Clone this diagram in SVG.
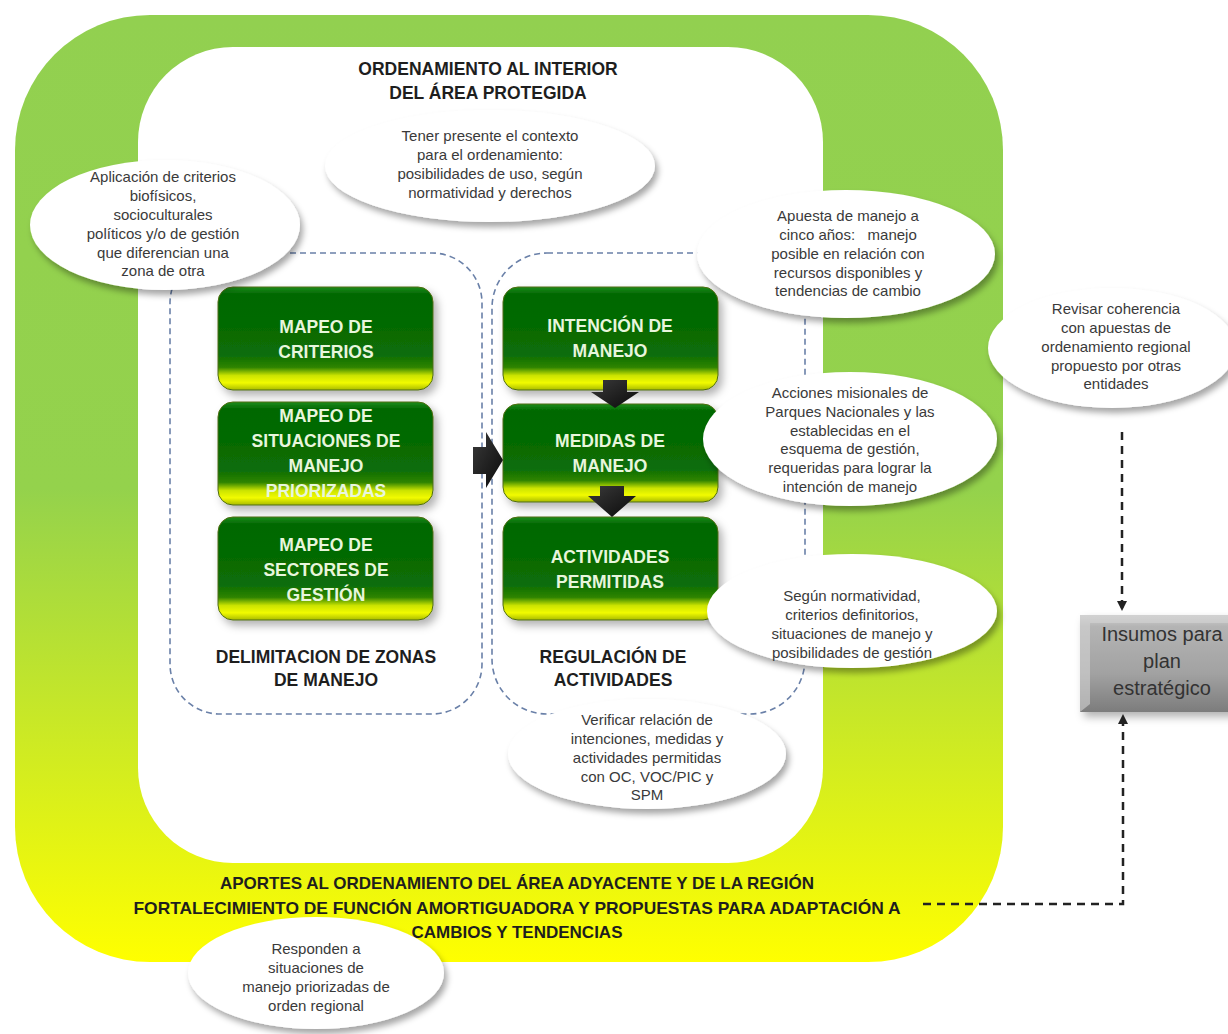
<svg xmlns="http://www.w3.org/2000/svg" width="1228" height="1034" viewBox="0 0 1228 1034">
<defs>
<linearGradient id="gOuter" x1="0" y1="15" x2="0" y2="962" gradientUnits="userSpaceOnUse">
<stop offset="0" stop-color="#92D050"/>
<stop offset="0.5" stop-color="#94D24C"/>
<stop offset="1" stop-color="#FFFF00"/>
</linearGradient>
<linearGradient id="gBox" x1="0" y1="0" x2="0" y2="1">
<stop offset="0" stop-color="#1f8c1f"/>
<stop offset="0.07" stop-color="#006800"/>
<stop offset="0.66" stop-color="#0b6d08"/>
<stop offset="0.78" stop-color="#2f8400"/>
<stop offset="0.86" stop-color="#cce400"/>
<stop offset="0.93" stop-color="#f2fb00"/>
<stop offset="1" stop-color="#a9bb00"/>
</linearGradient>
<linearGradient id="gGray" x1="0" y1="0" x2="0" y2="1">
<stop offset="0" stop-color="#cfcfcf"/>
<stop offset="0.12" stop-color="#b4b4b4"/>
<stop offset="0.6" stop-color="#a2a2a2"/>
<stop offset="1" stop-color="#7c7c7c"/>
</linearGradient>
<linearGradient id="gArrow" x1="0" y1="0" x2="1" y2="1">
<stop offset="0" stop-color="#3a3a3a"/>
<stop offset="1" stop-color="#0a0a0a"/>
</linearGradient>
<filter id="shE" x="-20%" y="-20%" width="140%" height="150%">
<feDropShadow dx="3" dy="5" stdDeviation="3" flood-color="#000" flood-opacity="0.35"/>
</filter>
<filter id="shB" x="-20%" y="-20%" width="140%" height="150%">
<feDropShadow dx="4" dy="5" stdDeviation="4" flood-color="#000" flood-opacity="0.3"/>
</filter>
<marker id="ah" viewBox="0 0 10 10" refX="9" refY="5" markerWidth="4" markerHeight="4" orient="auto" markerUnits="strokeWidth">
<path d="M0,0 L10,5 L0,10 z" fill="#222"/>
</marker>
<style>
.call{fill:#fff;filter:url(#shE)}
.ct{font-family:"Liberation Sans",Arial,sans-serif;font-size:15px;fill:#3a3a3a;text-anchor:middle}
.hd{font-family:"Liberation Sans",Arial,sans-serif;font-size:17.5px;font-weight:bold;fill:#1e1e1e;text-anchor:middle}
.bt{font-family:"Liberation Sans",Arial,sans-serif;font-size:17.5px;font-weight:bold;fill:#e8f6dc;text-anchor:middle}
.box{fill:url(#gBox);stroke:#4f6d10;stroke-width:1;filter:url(#shB)}
.cont{fill:none;stroke:#6a80a8;stroke-width:1.6;stroke-dasharray:6 4}
.arr{fill:url(#gArrow)}
.dl{fill:none;stroke:#222;stroke-width:2.5;stroke-dasharray:8 6}
</style>
</defs>

<g id="bg">
<rect x="15" y="15" width="988" height="947" rx="135" ry="135" fill="url(#gOuter)"/>
<rect x="138" y="47" width="685" height="816" rx="95" ry="95" fill="#fff"/>
</g>

<g id="containers">
<rect id="cont-delim" class="cont" x="170" y="253" width="312" height="461" rx="50" ry="50"/>
<rect id="cont-reg" class="cont" x="492" y="253" width="313" height="461" rx="55" ry="55"/>
</g>

<g id="title">
<text class="hd" x="488" y="75">ORDENAMIENTO AL INTERIOR</text>
<text class="hd" x="488" y="99">DEL ÁREA PROTEGIDA</text>
</g>

<g id="box-criterios">
<rect class="box" x="218" y="287" width="215" height="103" rx="15" ry="15"/>
<text class="bt" x="326" y="333">MAPEO DE</text>
<text class="bt" x="326" y="358">CRITERIOS</text>
</g>
<g id="box-situaciones">
<rect class="box" x="218" y="402" width="215" height="103" rx="15" ry="15"/>
<text class="bt" x="326" y="422">MAPEO DE</text>
<text class="bt" x="326" y="447">SITUACIONES DE</text>
<text class="bt" x="326" y="472">MANEJO</text>
<text class="bt" x="326" y="497">PRIORIZADAS</text>
</g>
<g id="box-sectores">
<rect class="box" x="218" y="517" width="215" height="103" rx="15" ry="15"/>
<text class="bt" x="326" y="551">MAPEO DE</text>
<text class="bt" x="326" y="576">SECTORES DE</text>
<text class="bt" x="326" y="601">GESTIÓN</text>
</g>
<g id="box-intencion">
<rect class="box" x="503" y="287" width="215" height="103" rx="15" ry="15"/>
<text class="bt" x="610" y="332">INTENCIÓN DE</text>
<text class="bt" x="610" y="357">MANEJO</text>
</g>
<g id="box-medidas">
<rect class="box" x="503" y="404" width="215" height="98" rx="15" ry="15"/>
<text class="bt" x="610" y="447">MEDIDAS DE</text>
<text class="bt" x="610" y="472">MANEJO</text>
</g>
<g id="box-actividades">
<rect class="box" x="503" y="517" width="215" height="103" rx="15" ry="15"/>
<text class="bt" x="610" y="563">ACTIVIDADES</text>
<text class="bt" x="610" y="588">PERMITIDAS</text>
</g>

<g id="arrows">
<polygon class="arr" points="603,380 627,380 627,392 639,392 615,408 591,392 603,392"/>
<polygon class="arr" points="600,486 624,486 624,496 636,496 612,517 588,496 600,496"/>
<polygon class="arr" points="473,447 486,447 486,432 503,460 486,488 486,474 473,474"/>
</g>

<g id="labels">
<text class="hd" x="326" y="663">DELIMITACION DE ZONAS</text>
<text class="hd" x="326" y="686">DE MANEJO</text>
<text class="hd" x="613" y="663">REGULACIÓN DE</text>
<text class="hd" x="613" y="686">ACTIVIDADES</text>
<text class="hd" x="517" y="889" style="font-size:17px">APORTES AL ORDENAMIENTO DEL ÁREA ADYACENTE Y DE LA REGIÓN</text>
<text class="hd" x="517" y="914" style="font-size:17px" textLength="767" lengthAdjust="spacingAndGlyphs">FORTALECIMIENTO DE FUNCIÓN AMORTIGUADORA Y PROPUESTAS PARA ADAPTACIÓN A</text>
<text class="hd" x="517" y="938" style="font-size:17px">CAMBIOS Y TENDENCIAS</text>
</g>

<g id="call-contexto">
<ellipse class="call" cx="490" cy="166" rx="165" ry="56"/>
<text class="ct" x="490" y="141">Tener presente el contexto</text>
<text class="ct" x="490" y="160">para el ordenamiento:</text>
<text class="ct" x="490" y="179">posibilidades de uso, según</text>
<text class="ct" x="490" y="198">normatividad y derechos</text>
</g>
<g id="call-criterios">
<ellipse class="call" cx="165" cy="225" rx="135" ry="65"/>
<text class="ct" x="163" y="182">Aplicación de criterios</text>
<text class="ct" x="163" y="201">biofísicos,</text>
<text class="ct" x="163" y="220">socioculturales</text>
<text class="ct" x="163" y="239">políticos y/o de gestión</text>
<text class="ct" x="163" y="258">que diferencian una</text>
<text class="ct" x="163" y="276">zona de otra</text>
</g>
<g id="call-apuesta">
<ellipse class="call" cx="846" cy="254" rx="149" ry="64"/>
<text class="ct" x="848" y="221">Apuesta de manejo a</text>
<text class="ct" x="848" y="240" xml:space="preserve">cinco años:   manejo</text>
<text class="ct" x="848" y="259">posible en relación con</text>
<text class="ct" x="848" y="278">recursos disponibles y</text>
<text class="ct" x="848" y="296">tendencias de cambio</text>
</g>
<g id="call-revisar">
<ellipse class="call" cx="1112" cy="348" rx="124" ry="60"/>
<text class="ct" x="1116" y="314">Revisar coherencia</text>
<text class="ct" x="1116" y="333">con apuestas de</text>
<text class="ct" x="1116" y="352">ordenamiento regional</text>
<text class="ct" x="1116" y="371">propuesto por otras</text>
<text class="ct" x="1116" y="389">entidades</text>
</g>
<g id="call-acciones">
<ellipse class="call" cx="850" cy="439" rx="147" ry="67"/>
<text class="ct" x="850" y="398">Acciones misionales de</text>
<text class="ct" x="850" y="417">Parques Nacionales y las</text>
<text class="ct" x="850" y="436">establecidas en el</text>
<text class="ct" x="850" y="454">esquema de gestión,</text>
<text class="ct" x="850" y="473">requeridas para lograr la</text>
<text class="ct" x="850" y="492">intención de manejo</text>
</g>
<g id="call-segun">
<ellipse class="call" cx="852" cy="611" rx="145" ry="57"/>
<text class="ct" x="852" y="601">Según normatividad,</text>
<text class="ct" x="852" y="620">criterios definitorios,</text>
<text class="ct" x="852" y="639">situaciones de manejo y</text>
<text class="ct" x="852" y="658">posibilidades de gestión</text>
</g>
<g id="call-verificar">
<ellipse class="call" cx="647" cy="754" rx="139" ry="55"/>
<text class="ct" x="647" y="725">Verificar relación de</text>
<text class="ct" x="647" y="744">intenciones, medidas y</text>
<text class="ct" x="647" y="763">actividades permitidas</text>
<text class="ct" x="647" y="782">con OC, VOC/PIC y</text>
<text class="ct" x="647" y="800">SPM</text>
</g>
<g id="call-responden">
<ellipse class="call" cx="316" cy="973" rx="128" ry="56"/>
<text class="ct" x="316" y="954">Responden a</text>
<text class="ct" x="316" y="973">situaciones de</text>
<text class="ct" x="316" y="992">manejo priorizadas de</text>
<text class="ct" x="316" y="1011">orden regional</text>
</g>

<g id="box-insumos">
<rect x="1080" y="615" width="160" height="97" fill="url(#gGray)" filter="url(#shB)"/>
<path d="M1080,615 L1240,615 L1230,623 L1090,623 L1090,704 L1080,712 Z" fill="#d4d4d4" opacity="0.6"/>
<text x="1162" y="641" style="font-family:'Liberation Sans',Arial,sans-serif;font-size:20px;fill:#333;text-anchor:middle">Insumos para</text>
<text x="1162" y="668" style="font-family:'Liberation Sans',Arial,sans-serif;font-size:20px;fill:#333;text-anchor:middle">plan</text>
<text x="1162" y="695" style="font-family:'Liberation Sans',Arial,sans-serif;font-size:20px;fill:#333;text-anchor:middle">estratégico</text>
</g>

<g id="connectors">
<path class="dl" d="M1122,432 L1122,610" marker-end="url(#ah)"/>
<path class="dl" d="M923,904 L1123,904 L1123,715" marker-end="url(#ah)"/>
</g>
</svg>
